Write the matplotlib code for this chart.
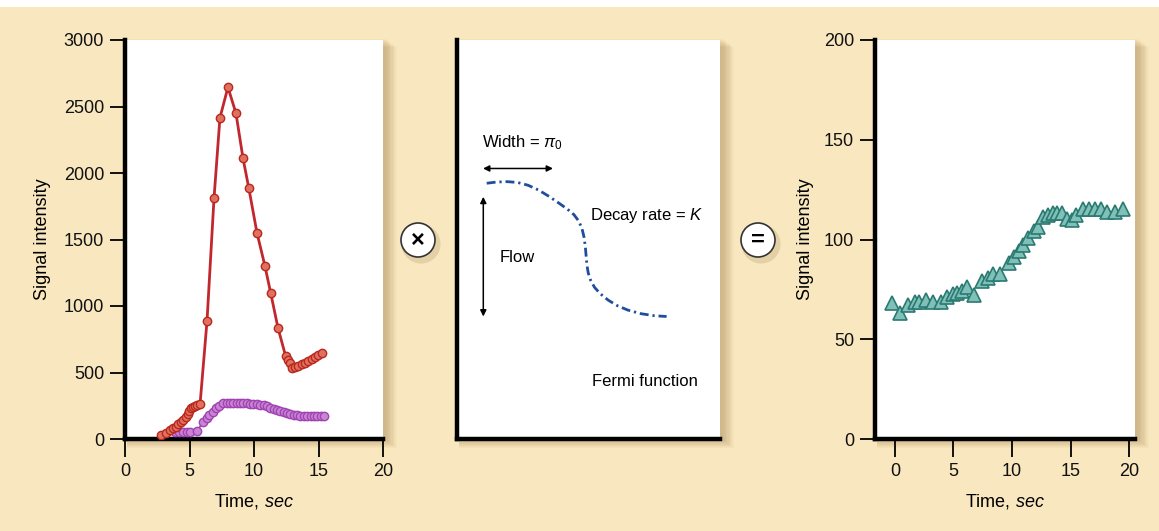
import matplotlib
matplotlib.use("Agg")
import matplotlib.pyplot as plt
from matplotlib.patches import Rectangle, Ellipse

plt.rcParams["font.family"] = ["Liberation Sans", "DejaVu Sans"]
plt.rcParams["mathtext.fontset"] = "custom"
plt.rcParams["mathtext.rm"] = "Liberation Sans"
plt.rcParams["mathtext.it"] = "Liberation Sans:italic"

# ---- data -------------------------------------------------------------
# arterial input (red)
t_red = [2.8, 3.2, 3.5, 3.75, 3.95, 4.13, 4.31, 4.52, 4.7, 4.85, 4.98, 5.1,
         5.25, 5.43, 5.62, 5.82, 6.36, 6.9, 7.36, 7.98, 8.6, 9.14, 9.6,
         10.23, 10.85, 11.3, 11.86, 12.45, 12.66, 12.79, 12.97, 13.18, 13.44,
         13.7, 13.95, 14.21, 14.47, 14.73, 14.98, 15.27]
s_red = [30, 45, 68, 80, 93, 110, 125, 143, 163, 185, 210, 230,
         243, 248, 255, 263, 890, 1810, 2415, 2645, 2450, 2115, 1885,
         1550, 1300, 1095, 835, 624, 594, 569, 531, 539, 549,
         561, 574, 586, 599, 614, 629, 644]

# tissue response (purple)
t_purple = [3.9, 4.2, 4.5, 4.8, 5.05, 5.6, 6.07, 6.33, 6.53, 6.79, 7.05, 7.3,
            7.62, 7.88, 8.14, 8.40, 8.66, 8.92, 9.18, 9.44, 9.70, 9.96, 10.22,
            10.48, 10.74, 11.00, 11.26, 11.52, 11.78, 12.04, 12.30, 12.56,
            12.82, 13.08, 13.34, 13.60, 13.86, 14.12, 14.38, 14.64, 14.90,
            15.16, 15.42]
s_purple = [50, 50, 52, 52, 55, 62, 130, 155, 180, 205, 230, 250,
            268, 270, 270, 270, 270, 270, 268, 268, 266, 265, 262,
            258, 252, 245, 236, 228, 220, 212, 204, 197, 190,
            184, 179, 176, 174, 173, 173, 173, 173, 173, 173]

# resulting curve (triangles)
t_tri = [-0.23, 0.43, 1.14, 1.71, 2.08, 2.65, 3.28, 3.9, 4.47, 4.93, 5.33,
         5.7, 6.13, 6.75, 7.41, 7.98, 8.4, 8.97, 9.74, 10.17, 10.63, 10.97,
         11.4, 11.88, 12.2, 12.68, 13.1, 13.48, 13.88, 14.25, 14.68, 15.1,
         15.47, 16.04, 16.6, 17.1, 17.58, 18.15, 18.8, 19.5]
s_tri = [68, 63.3, 67.2, 68.5, 68.8, 69.7, 68.5, 68.5, 71.3, 72.7, 73,
         74.3, 76, 72.2, 79.4, 80.5, 82.7, 82.7, 88.4, 91, 94.4, 97.2,
         100.6, 104.4, 106.4, 111.4, 112.3, 113.1, 113.4, 113.1, 110.1, 109.8,
         112.3, 115.1, 115.1, 115.1, 115.1, 113.9, 113.9, 115.1]

# schematic Fermi response (panel units 0-100)
fermi_u = [11.3, 15, 19, 23, 27, 31, 35, 39, 42, 44.5, 46.3, 47.5, 48.3,
           48.8, 49.1, 49.4, 49.9, 50.8, 52.3, 54.5, 57.5, 61, 65, 70, 75, 79.7]
fermi_v = [64.1, 64.4, 64.5, 64.3, 63.6, 62.4, 60.8, 59.0, 57.6, 56.2, 54.6,
           52.8, 50.6, 48.2, 45.8, 43.6, 41.6, 39.8, 38.0, 36.4, 34.8, 33.4,
           32.3, 31.4, 30.9, 30.7]

x_ticks = [0, 5, 10, 15, 20]
left_y_ticks = [0, 500, 1000, 1500, 2000, 2500, 3000]
right_y_ticks = [0, 50, 100, 150, 200]

# ---- figure -----------------------------------------------------------
W, H = 1159, 531
BG = "#F9E7BF"
fig = plt.figure(figsize=(W / 100, H / 100), dpi=100)
fig.patch.set_facecolor(BG)
fig.patches.append(Rectangle((0, 1 - 7 / H), 1, 7 / H, transform=fig.transFigure,
                             facecolor="white", edgecolor="none", zorder=-2))


def px_rect(x0, x1, y0, y1):
    return [x0 / W, 1 - y1 / H, (x1 - x0) / W, (y1 - y0) / H]


def add_shadow(x0, x1, y0, y1):
    for k in range(1, 10):
        fig.patches.append(Rectangle(((x0 + 2) / W, 1 - (y1 + k) / H),
                                     (x1 - x0 + k * 1.3) / W, (y1 - y0 + 2) / H,
                                     transform=fig.transFigure,
                                     facecolor="#7a5a20", edgecolor="none",
                                     alpha=0.04, zorder=-1))


def style_axes(ax):
    ax.set_facecolor("white")
    for side in ("top", "right"):
        ax.spines[side].set_visible(False)
    for side in ("left", "bottom"):
        ax.spines[side].set_linewidth(3.2)
        ax.spines[side].set_color("black")


panels = {
    "left": (125, 383, 40, 439),
    "mid": (457, 720, 40, 439),
    "right": (875, 1135, 40, 439),
}
for p in panels.values():
    add_shadow(*p)

axL = fig.add_axes(px_rect(*panels["left"]))
axM = fig.add_axes(px_rect(*panels["mid"]))
axR = fig.add_axes(px_rect(*panels["right"]))
for ax in (axL, axM, axR):
    style_axes(ax)

# left panel
axL.plot(t_purple, s_purple, color="#9b3fae", lw=1.2, marker="o", ms=6,
         mfc="#c985d3", mec="#a043b3", mew=1.0, zorder=3)
axL.plot(t_red, s_red, color="#c1272d", lw=2.0, marker="o", ms=6,
         mfc="#e07060", mec="#b8281c", mew=1.0, zorder=4)
axL.set_xlim(0, 20)
axL.set_ylim(0, 3000)
axL.set_xticks(x_ticks)
axL.set_yticks(left_y_ticks)
axL.set_ylabel("Signal intensity", fontsize=13, labelpad=9)
axL.set_xlabel("Time, $\\mathit{sec}$", fontsize=13, labelpad=9)

# right panel
axR.plot(t_tri, s_tri, linestyle="none", marker="^", ms=10,
         mfc="#7fc0b8", mec="#2b7a72", mew=1.2, zorder=3)
axR.set_xlim(-1.7, 20.5)
axR.set_ylim(0, 200)
axR.set_xticks(x_ticks)
axR.set_yticks(right_y_ticks)
axR.set_ylabel("Signal intensity", fontsize=13, labelpad=7)
axR.set_xlabel("Time, $\\mathit{sec}$", fontsize=13, labelpad=9)

for ax in (axL, axR):
    ax.tick_params(axis="x", direction="out", length=13, width=1.3,
                   labelsize=13, pad=4)
    ax.tick_params(axis="y", direction="out", length=11, width=1.3,
                   labelsize=13, pad=4)
    for lab in ax.get_xticklabels() + ax.get_yticklabels():
        lab.set_color("#111111")

# middle panel: Fermi function sketch
axM.set_xlim(0, 100)
axM.set_ylim(0, 100)
axM.set_xticks([])
axM.set_yticks([])
axM.plot(fermi_u, fermi_v, color="#1f4e9e", lw=2.0, dashes=(3.2, 1.4, 0.8, 1.4),
         solid_joinstyle="round", dash_joinstyle="round")
axM.annotate("", xy=(36.5, 67.8), xytext=(9.9, 67.8),
             arrowprops=dict(arrowstyle="<|-|>", lw=1.1, color="black",
                             mutation_scale=9, shrinkA=0, shrinkB=0))
axM.annotate("", xy=(10.0, 60.7), xytext=(10.0, 30.7),
             arrowprops=dict(arrowstyle="<|-|>", lw=1.1, color="black",
                             mutation_scale=9, shrinkA=0, shrinkB=0))
axM.text(9.4, 74.2, "Width = $\\pi_0$", fontsize=12, va="center", ha="left")
axM.text(50.6, 56.1, "Decay rate = $K$", fontsize=12, va="center", ha="left")
axM.text(16.3, 45.6, "Flow", fontsize=12, va="center", ha="left")
axM.text(51.3, 14.3, "Fermi function", fontsize=12, va="center", ha="left")

# operator badges between panels
for cx, sym in ((418, "\u00d7"), (758, "=")):
    r = 17
    fig.patches.append(Ellipse(((cx + 3) / W, 1 - (240 + 4) / H), 2 * r / W * 1.15,
                               2 * r / H * 1.15, transform=fig.transFigure,
                               facecolor="#8a6a30", edgecolor="none", alpha=0.18,
                               zorder=5))
    fig.patches.append(Ellipse((cx / W, 1 - 240 / H), 2 * r / W, 2 * r / H,
                               transform=fig.transFigure, facecolor="white",
                               edgecolor="#333333", lw=1.2, zorder=6))
    fig.text(cx / W, 1 - 240 / H, sym, ha="center", va="center", fontsize=17,
             fontweight="bold", zorder=7)

fig.savefig("out.png", dpi=100, facecolor=fig.get_facecolor())
